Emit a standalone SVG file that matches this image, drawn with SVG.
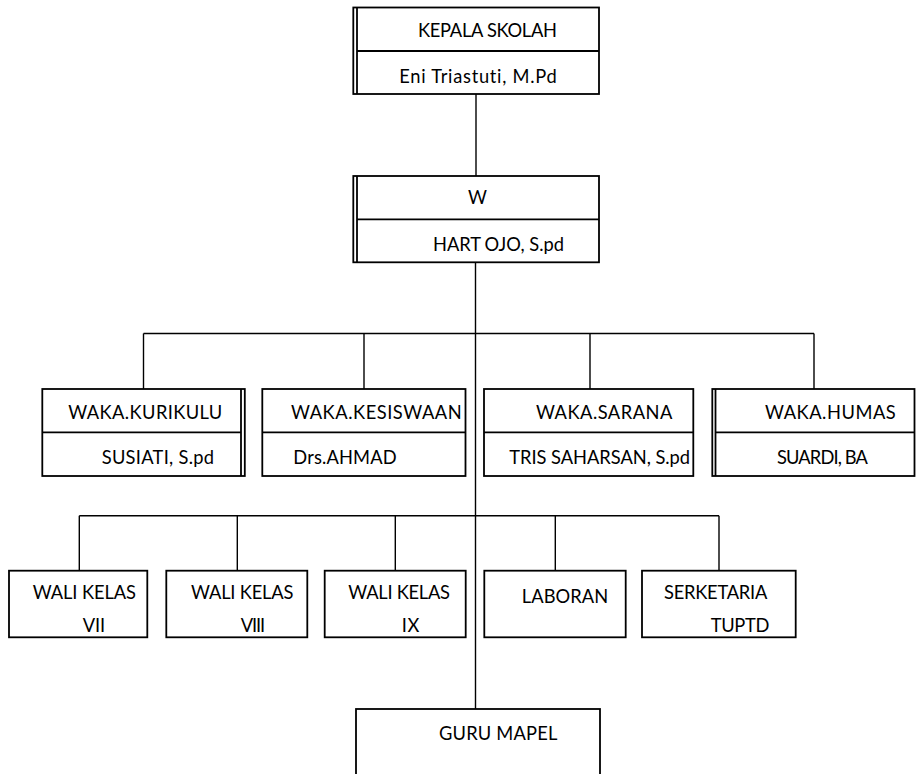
<svg xmlns="http://www.w3.org/2000/svg" width="918" height="774" viewBox="0 0 918 774">
<style>
  .box{fill:#fff;stroke:#000;stroke-width:1.8}
  .ln{stroke:#000;stroke-width:1.8;fill:none}
  .con{stroke:#000;stroke-width:1.4;fill:none}
  text{font-family:Lato,"Liberation Sans",Arial,sans-serif;font-size:18.3px;fill:#000;font-variant-ligatures:none}
</style>
<rect width="918" height="774" fill="#fff"/>
<g id="connectors">
  <line class="con" x1="476" y1="94" x2="476" y2="176"/>
  <line class="con" x1="475.5" y1="262" x2="475.5" y2="709"/>
  <line class="con" x1="143.5" y1="333.5" x2="814" y2="333.5"/>
  <line class="con" x1="143.5" y1="333.5" x2="143.5" y2="389"/>
  <line class="con" x1="364" y1="333.5" x2="364" y2="389"/>
  <line class="con" x1="590" y1="333.5" x2="590" y2="389"/>
  <line class="con" x1="814" y1="333.5" x2="814" y2="389"/>
  <line class="con" x1="79.3" y1="515.7" x2="719" y2="515.7"/>
  <line class="con" x1="79.3" y1="515.7" x2="79.3" y2="570.7"/>
  <line class="con" x1="237.3" y1="515.7" x2="237.3" y2="570.7"/>
  <line class="con" x1="395.3" y1="515.7" x2="395.3" y2="570.7"/>
  <line class="con" x1="555.3" y1="515.7" x2="555.3" y2="570.7"/>
  <line class="con" x1="719" y1="515.7" x2="719" y2="570.7"/>
</g>
<g id="kepala">
  <rect class="box" x="353.3" y="7.5" width="245.7" height="86.5"/>
  <line class="ln" x1="357" y1="7.5" x2="357" y2="94"/>
  <line class="ln" x1="357" y1="51" x2="599" y2="51"/>
  <text x="418" y="36.7" textLength="139">KEPALA SKOLAH</text>
  <text x="399.3" y="82.7" textLength="157.4">Eni Triastuti, M.Pd</text>
</g>
<g id="wakil">
  <rect class="box" x="353.3" y="176" width="245.7" height="86.3"/>
  <line class="ln" x1="357" y1="176" x2="357" y2="262.3"/>
  <line class="ln" x1="357" y1="219.3" x2="599" y2="219.3"/>
  <text x="468" y="204.3" textLength="17.7">W</text>
  <text x="433" y="251">HART<tspan dx="4">OJO, S.pd</tspan></text>
</g>
<g id="kurikulum">
  <rect class="box" x="42.3" y="389" width="202.5" height="87"/>
  <line class="ln" x1="241" y1="389" x2="241" y2="476"/>
  <line class="ln" x1="42.3" y1="432.3" x2="241" y2="432.3"/>
  <text x="68.3" y="419.3" textLength="154">WAKA.KURIKULU</text>
  <text x="101.7" y="464" textLength="112.3">SUSIATI, S.pd</text>
</g>
<g id="kesiswaan">
  <rect class="box" x="262.3" y="389" width="203.2" height="87"/>
  <line class="ln" x1="262.3" y1="432.3" x2="465.5" y2="432.3"/>
  <text x="291" y="419.3" textLength="170.7">WAKA.KESISWAAN</text>
  <text x="293.3" y="464" textLength="103.4">Drs.AHMAD</text>
</g>
<g id="sarana">
  <rect class="box" x="484" y="389" width="209.3" height="87"/>
  <line class="ln" x1="484" y1="432.3" x2="693.3" y2="432.3"/>
  <text x="536" y="419.3" textLength="136.3">WAKA.SARANA</text>
  <text x="509.3" y="464" textLength="180.7">TRIS SAHARSAN, S.pd</text>
</g>
<g id="humas">
  <rect class="box" x="712.3" y="389" width="202.2" height="87"/>
  <line class="ln" x1="715.5" y1="389" x2="715.5" y2="476"/>
  <line class="ln" x1="715.5" y1="432.3" x2="914.5" y2="432.3"/>
  <text x="765" y="419.3" textLength="130.7">WAKA.HUMAS</text>
  <text x="777" y="464" textLength="91">SUARDI, BA</text>
</g>
<g id="wali7">
  <rect class="box" x="9" y="570.7" width="138.3" height="66.6"/>
  <text x="32.7" y="599.3" textLength="103.3">WALI KELAS</text>
  <text x="82.7" y="631.7" textLength="22.3">VII</text>
</g>
<g id="wali8">
  <rect class="box" x="166.3" y="570.7" width="141" height="66.6"/>
  <text x="191" y="599.3" textLength="102.3">WALI KELAS</text>
  <text x="240.7" y="631.7" textLength="24.3">VIII</text>
</g>
<g id="wali9">
  <rect class="box" x="324.7" y="570.7" width="141" height="66.6"/>
  <text x="348.3" y="599.3" textLength="101.7">WALI KELAS</text>
  <text x="401.7" y="631.7" textLength="17.6">IX</text>
</g>
<g id="laboran">
  <rect class="box" x="484.3" y="570.7" width="141.4" height="66.6"/>
  <text x="521.7" y="603.3" textLength="86.6">LABORAN</text>
</g>
<g id="serketaria">
  <rect class="box" x="642" y="570.7" width="153.7" height="66.6"/>
  <text x="664" y="599.3" textLength="103.3">SERKETARIA</text>
  <text x="710.7" y="631.7" textLength="58.6">TUPTD</text>
</g>
<g id="guru">
  <rect class="box" x="356" y="709" width="244" height="90"/>
  <text x="439" y="740" textLength="118.3">GURU MAPEL</text>
</g>
</svg>
